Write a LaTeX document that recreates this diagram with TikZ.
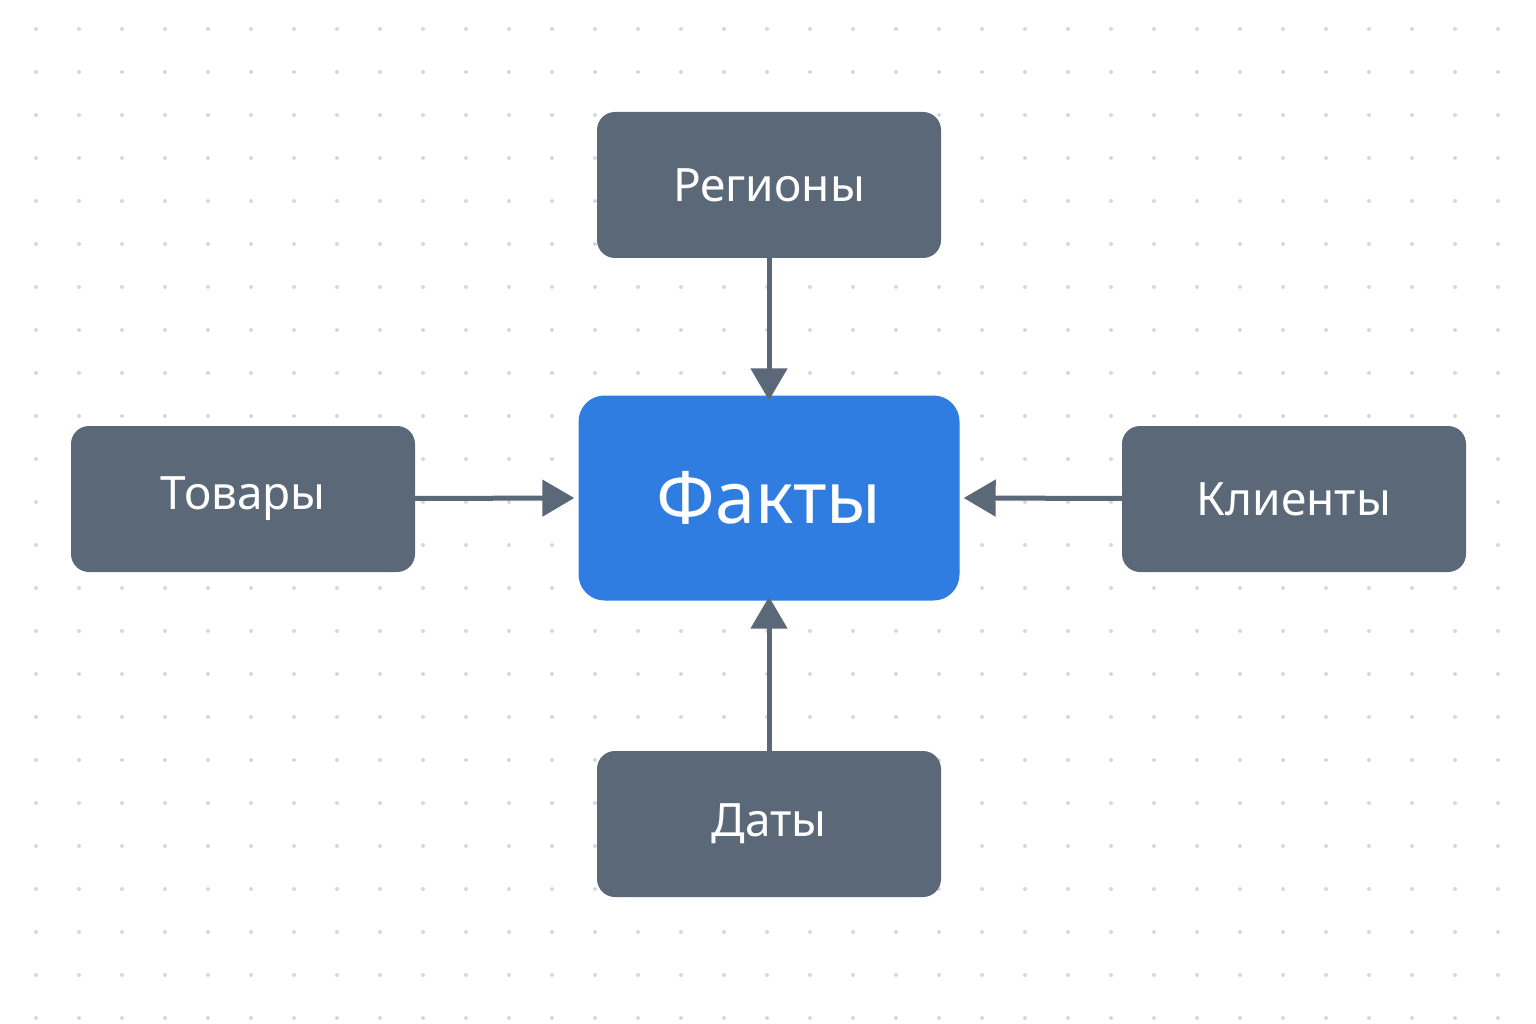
\documentclass[tikz,border=0pt]{standalone}
\usepackage{fontspec}
\setmainfont{Noto Sans}
\usetikzlibrary{arrows.meta}
\definecolor{dim}{HTML}{5A6878}
\definecolor{fact}{HTML}{2F7DE1}
\definecolor{dotc}{HTML}{D5D9DE}
\begin{document}
\begin{tikzpicture}[x=1pt,y=-1pt,
  dimbox/.style={fill=dim,rounded corners=18pt,minimum width=344pt,minimum height=146pt,text=white,font=\fontsize{46}{50}\selectfont\bfseries},
  arr/.style={draw=dim,line width=5pt,-{Triangle[length=32pt,width=36pt]}}]
\useasboundingbox (0,0) rectangle (1536,1024);
\fill[white] (0,0) rectangle (1536,1024);
\foreach \i in {0,...,35}{\foreach \j in {0,...,23}{\fill[dotc] (36+43*\i,29+43*\j) circle (2pt);}}
\node[fill=fact,rounded corners=26pt,minimum width=381pt,minimum height=205pt,text=white,font=\fontsize{72}{80}\selectfont\bfseries] (f) at (769,498) {Факты};
\node[dimbox] (r) at (769,185) {Регионы};
\node[dimbox] (t) at (243,499) {Товары};
\node[dimbox] (k) at (1294,499) {Клиенты};
\node[dimbox] (d) at (769,824) {Даты};
\draw[arr] (r) -- ([yshift=-5pt]f.north);
\draw[arr] (t) -- ([xshift=-4pt]f.west);
\draw[arr] (k) -- ([xshift=4pt]f.east);
\draw[arr] (d) -- ([yshift=4pt]f.south);
\end{tikzpicture}
\end{document}
